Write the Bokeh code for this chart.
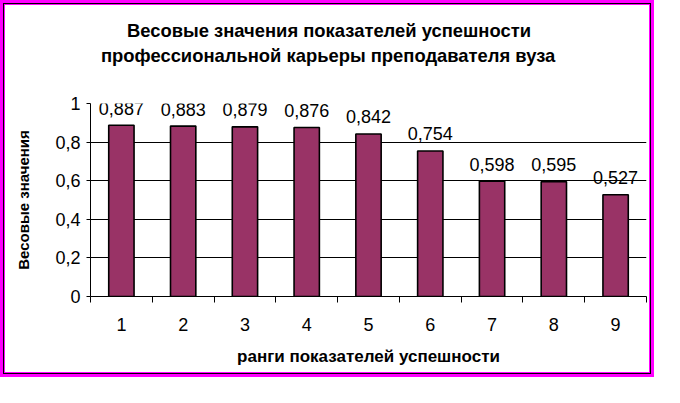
from bokeh.plotting import figure
from bokeh.models import (Range1d, FixedTicker, CustomJSTickFormatter, ColumnDataSource,
                          LabelSet, Title, LinearAxis)
from bokeh.core.properties import value
from bokeh.embed import file_html
from bokeh.resources import INLINE

# ---- data ----
title_lines = ["Весовые значения показателей успешности",
               "профессиональной карьеры преподавателя вуза"]
x_label = "ранги показателей успешности"
y_label = "Весовые значения"
ranks = [1, 2, 3, 4, 5, 6, 7, 8, 9]
weights = [0.887, 0.883, 0.879, 0.876, 0.842, 0.754, 0.598, 0.595, 0.527]
y_ticks = [0, 0.2, 0.4, 0.6, 0.8, 1.0]

FONT = "Liberation Sans"
BAR = "#993366"

labels = [f"{v:.3f}".replace(".", ",") for v in weights]
src = ColumnDataSource(dict(x=ranks, top=weights, lab=labels))

p = figure(width=654, height=377, x_range=Range1d(0.5, 9.5), y_range=Range1d(0, 1),
           output_backend="svg", toolbar_location=None,
           min_border_left=85, min_border_right=13, min_border_top=98, min_border_bottom=86)
p.styles = {"border": "5px solid #ff00ff", "outline": "1px solid #000000",
            "outline-offset": "-4px"}
p.background_fill_color = "white"
p.border_fill_color = "white"
p.outline_line_color = None
p.title = None

p.vbar(x="x", top="top", width=0.41, source=src, fill_color=BAR,
       line_color="black", line_width=1.6)

p.add_layout(LabelSet(x="x", y="top", text="lab", source=src, y_offset=17,
                      text_align="center", text_baseline="middle",
                      text_font=value(FONT), text_font_size=value("18px"), text_color="black"))

# x axis
xt = FixedTicker(ticks=ranks, minor_ticks=[r - 0.5 for r in ranks] + [ranks[-1] + 0.5])
p.xaxis.ticker = xt
p.xaxis.major_tick_line_color = None
p.xaxis.major_tick_out = 0
p.xaxis.major_tick_in = 0
p.xaxis.minor_tick_line_color = "black"
p.xaxis.minor_tick_out = 6
p.xaxis.minor_tick_in = 0
p.xaxis.axis_line_color = "black"
p.xaxis.major_label_standoff = 15
p.xaxis.major_label_text_font = FONT
p.xaxis.major_label_text_font_size = "18px"
p.xaxis.major_label_text_color = "black"
p.xaxis.axis_label = x_label
p.xaxis.axis_label_text_font = FONT
p.xaxis.axis_label_text_font_style = "bold"
p.xaxis.axis_label_text_font_size = "17px"
p.xaxis.axis_label_text_color = "black"
p.xaxis.axis_label_standoff = 13

# y axis
p.yaxis.ticker = FixedTicker(ticks=y_ticks)
p.yaxis.formatter = CustomJSTickFormatter(
    code="return (Math.round(tick*10)/10).toString().replace('.', ',');")
p.yaxis.major_tick_out = 4
p.yaxis.major_tick_in = 0
p.yaxis.minor_tick_line_color = None
p.yaxis.axis_line_color = "black"
p.yaxis.major_label_standoff = 6
p.yaxis.major_label_text_font = FONT
p.yaxis.major_label_text_font_size = "18px"
p.yaxis.major_label_text_color = "black"
p.yaxis.axis_label = y_label
p.yaxis.axis_label_text_font = FONT
p.yaxis.axis_label_text_font_style = "bold"
p.yaxis.axis_label_text_font_size = "15px"
p.yaxis.axis_label_text_color = "black"
p.yaxis.axis_label_standoff = 20

p.xgrid.grid_line_color = None
p.ygrid.ticker = FixedTicker(ticks=y_ticks)
p.ygrid.grid_line_color = "black"
p.ygrid.grid_line_width = 1

# blank axis above the plot: white tick, no label; it only reserves the gap below the title
spacer = LinearAxis(ticker=FixedTicker(ticks=[5]), axis_line_color=None,
                    major_tick_line_color="white", major_tick_out=37, major_tick_in=0,
                    minor_tick_line_color=None, minor_tick_out=0, minor_tick_in=0,
                    major_label_text_color=None, major_label_text_font_size="1px",
                    major_label_standoff=0)
p.add_layout(spacer, "above")

# two-line title: nearest line added first
for txt, off in [(title_lines[1], 10.5), (title_lines[0], 36.5)]:
    p.add_layout(Title(text=txt, align="left", offset=off, standoff=2,
                       text_font=FONT, text_font_style="bold",
                       text_font_size="18.4px", text_color="black"), "above")

open("out.html", "w").write(file_html(p, INLINE))
